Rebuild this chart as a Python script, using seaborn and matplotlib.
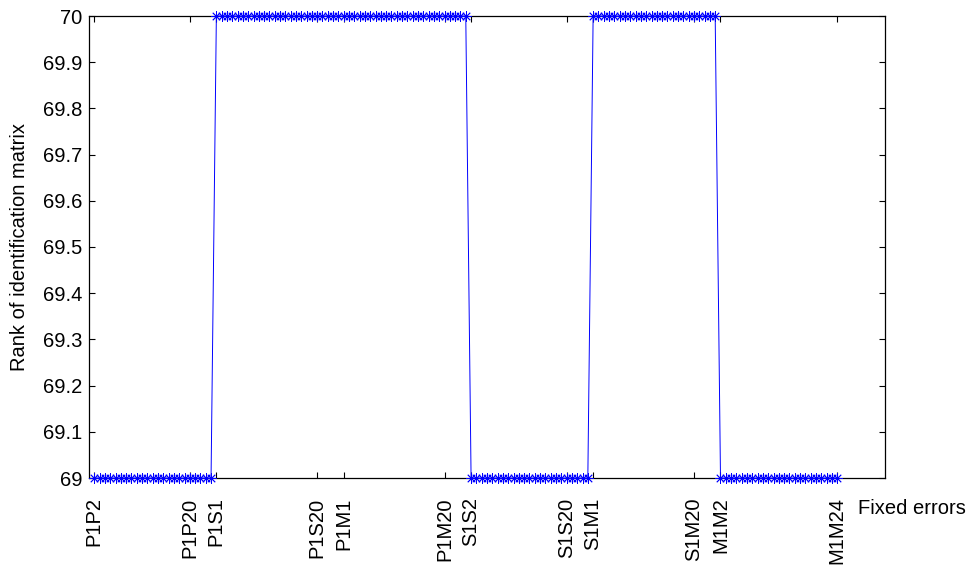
import numpy as np
import pandas as pd
import matplotlib
matplotlib.use("Agg")
import matplotlib.pyplot as plt
import seaborn as sns

# Fixed-error pairs, grouped by error type
group_names = ["P1P", "P1S", "P1M", "S1S", "S1M", "M1M"]
group_first = [2, 1, 1, 2, 1, 2]
group_last = [24, 24, 24, 24, 24, 24]
group_rank = [69, 70, 70, 69, 70, 69]

shown_labels = ["P1P2", "P1P20", "P1S1", "P1S20", "P1M1", "P1M20",
                "S1S2", "S1S20", "S1M1", "S1M20", "M1M2", "M1M24"]

y_ticks = [69.0, 69.1, 69.2, 69.3, 69.4, 69.5, 69.6, 69.7, 69.8, 69.9, 70.0]

pairs, ranks = [], []
for name, a, b, r in zip(group_names, group_first, group_last, group_rank):
    for k in range(a, b + 1):
        pairs.append(f"{name}{k}")
        ranks.append(r)

df = pd.DataFrame({"idx": np.arange(1, len(pairs) + 1), "pair": pairs, "rank": ranks})

sns.set_style("ticks")
plt.rcParams["font.family"] = ["Liberation Sans", "DejaVu Sans"]
plt.rcParams["font.size"] = 14.5
for key in ("text.color", "axes.labelcolor", "xtick.color", "ytick.color"):
    plt.rcParams[key] = "black"

fig = plt.figure(figsize=(9.73, 5.76), dpi=100)
ax = fig.add_axes([89 / 973, 1 - 478 / 576, (885 - 89) / 973, (478 - 16) / 576])

sns.lineplot(data=df, x="idx", y="rank", ax=ax, color="blue", linewidth=0.7,
             marker=(8, 2, 0), markersize=7.5, markeredgecolor="blue",
             markeredgewidth=0.6, estimator=None, clip_on=False, zorder=3)

ax.set_xlim(0, 150)
ax.set_ylim(69, 70)
ax.set_yticks(y_ticks)
ax.set_yticklabels([f"{v:g}" for v in y_ticks])

pos = [pairs.index(s) + 1 for s in shown_labels]
ax.set_xticks(pos)
ax.set_xticklabels(shown_labels, rotation=90, va="top", ha="center")

ax.tick_params(axis="both", direction="in", length=4, width=0.8,
               top=True, right=True, colors="black", labelcolor="black")
ax.tick_params(axis="x", pad=14)
ax.tick_params(axis="y", pad=5)
for s in ax.spines.values():
    s.set_visible(True)
    s.set_linewidth(0.9)
    s.set_color("black")
    s.set_zorder(2)

ax.set_xlabel("")
ax.set_ylabel("Rank of identification matrix", fontsize=14.5, color="black")
ax.yaxis.set_label_coords(-0.075, 0.5)
ax.text(1.0 + (858 - 885) / 796, -(508 - 478) / 462, "Fixed errors",
        transform=ax.transAxes, ha="left", va="center", fontsize=14.5,
        color="black")

fig.savefig("out.png", dpi=100)
